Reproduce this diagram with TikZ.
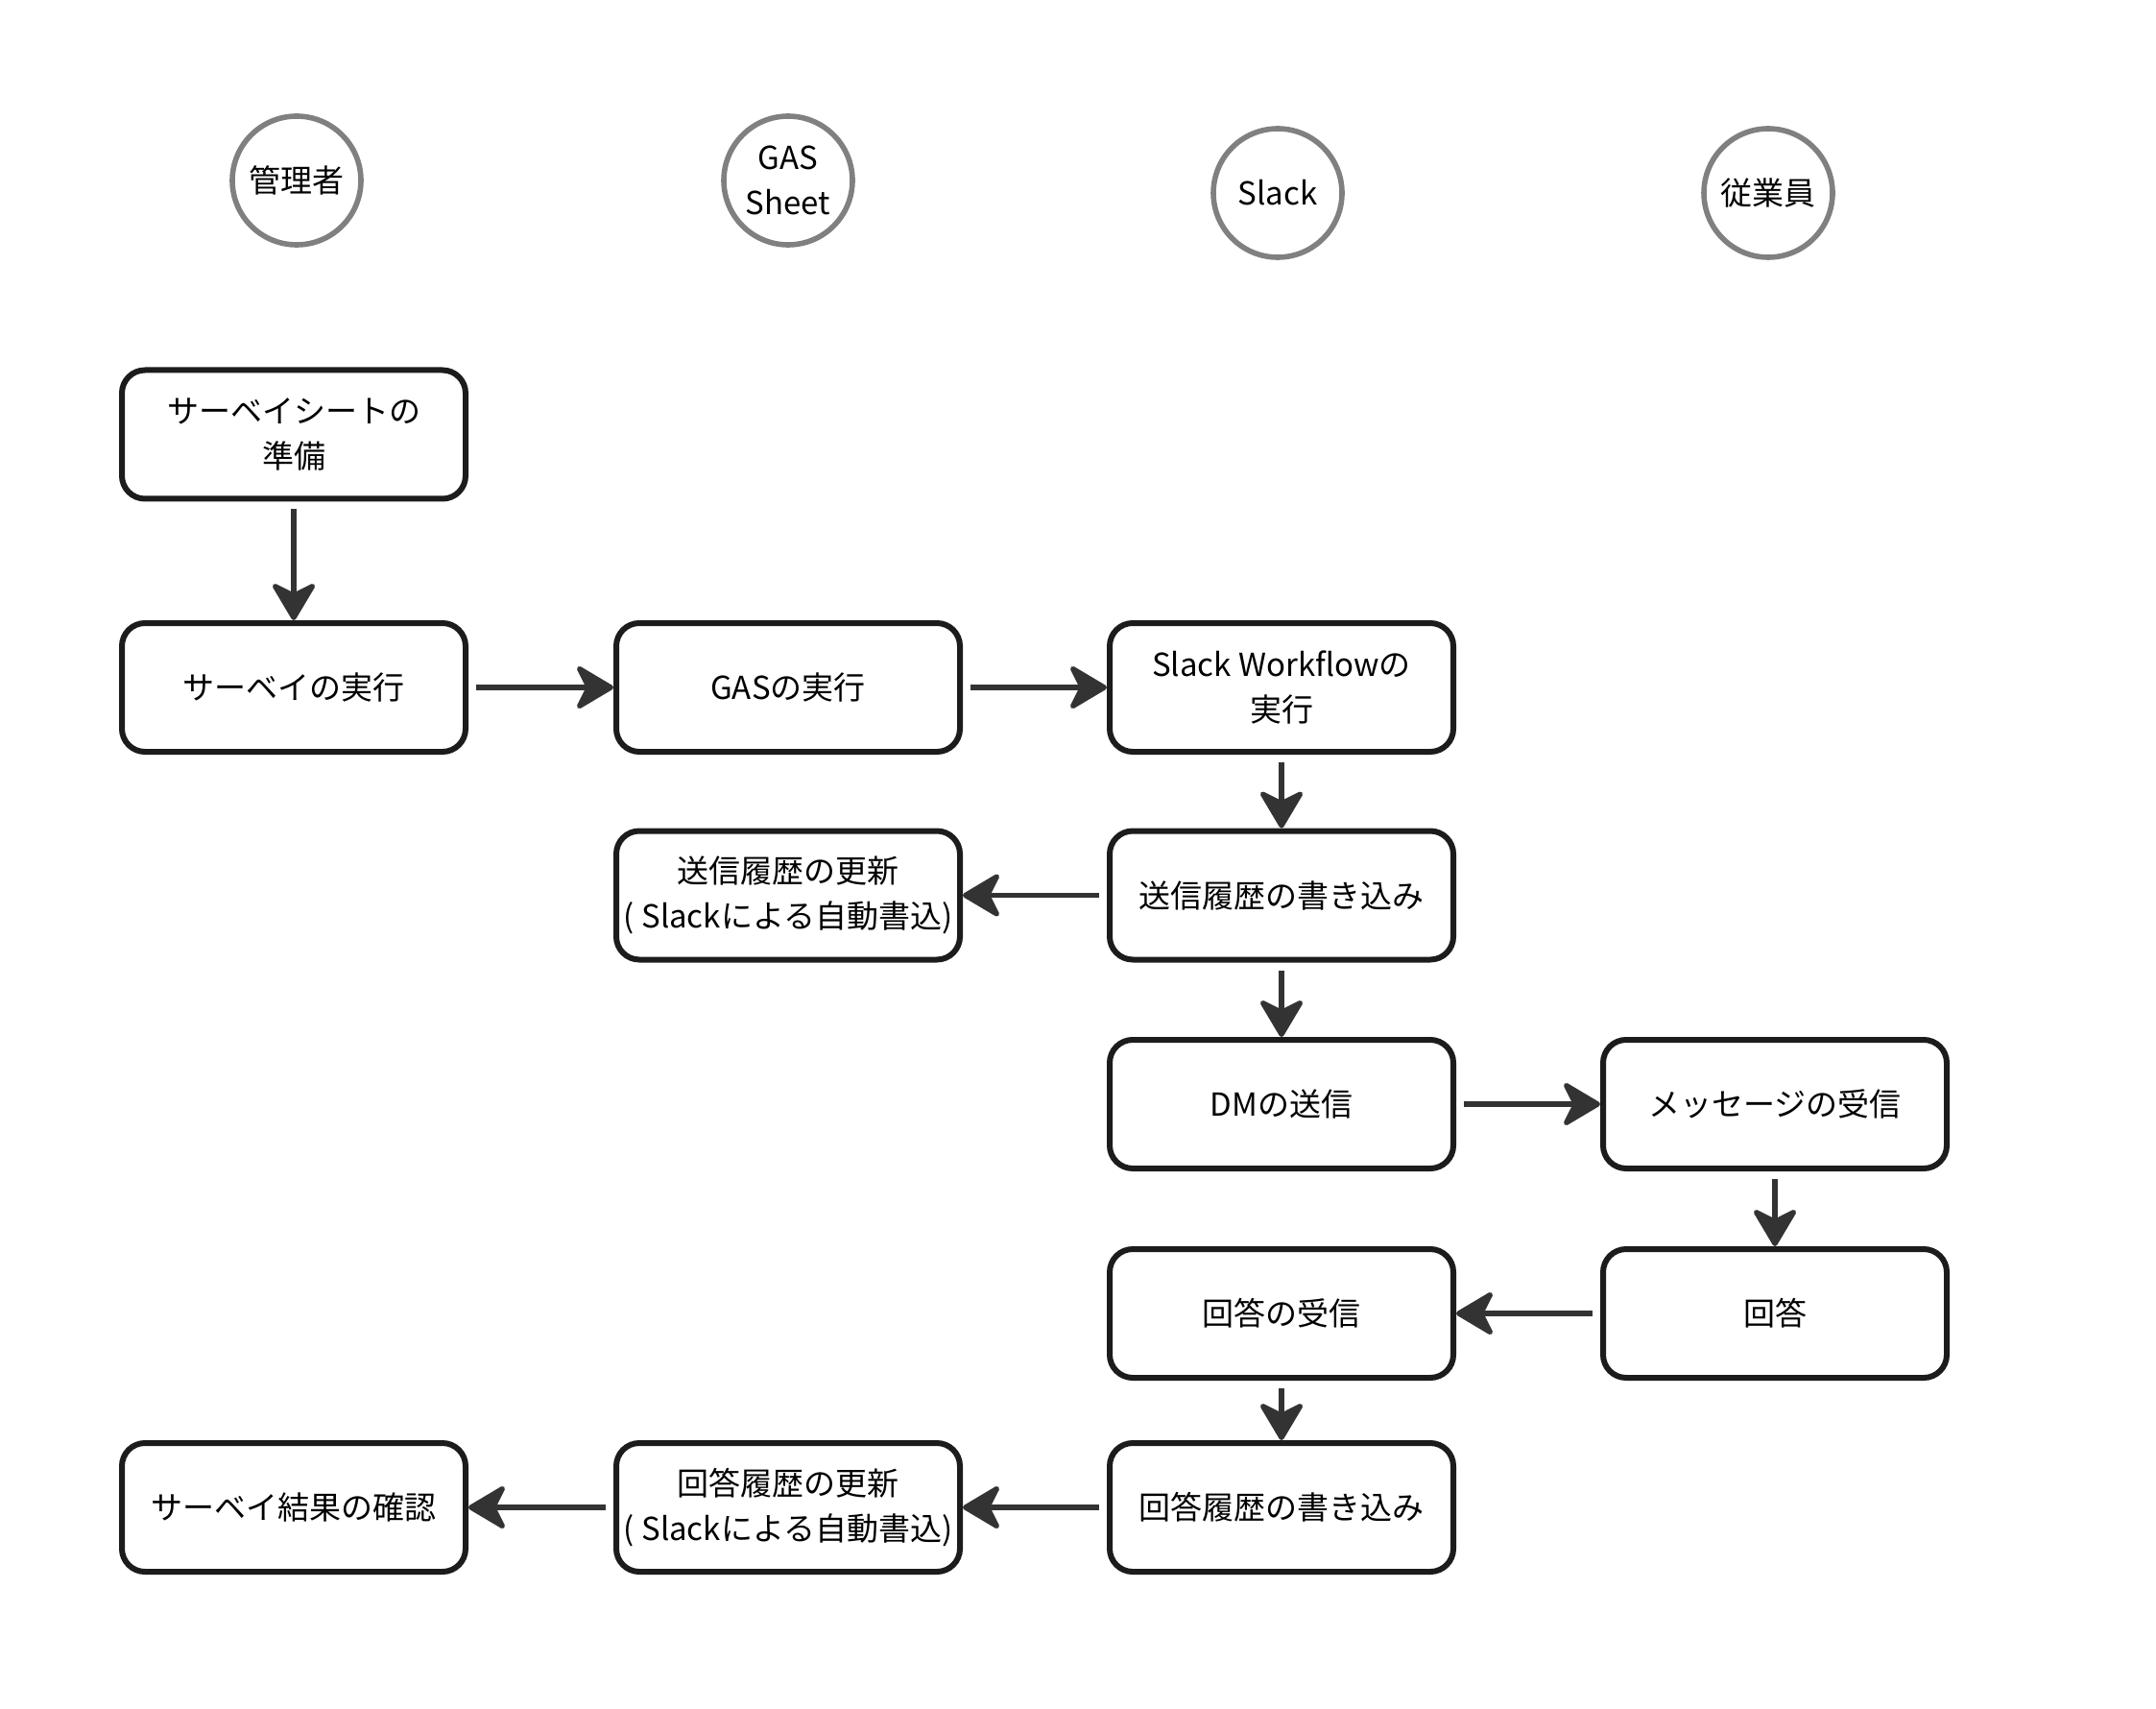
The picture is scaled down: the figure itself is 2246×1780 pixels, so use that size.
\documentclass[tikz,border=0pt]{standalone}
\usepackage{fontspec}
\setmainfont{Noto Sans CJK JP}
\usetikzlibrary{arrows.meta}
\definecolor{boxline}{HTML}{1C1C1C}
\definecolor{arrline}{HTML}{333333}
\definecolor{circline}{HTML}{808080}
\begin{document}
\begin{tikzpicture}[x=0.5pt,y=-0.5pt,
  stepbox/.style={rectangle, rounded corners=12pt, draw=boxline, fill=white,
    line width=3pt, minimum width=179pt, minimum height=67pt, inner sep=0pt,
    align=center, font=\fontsize{16.5pt}{23.5pt}\selectfont},
  actor/.style={circle, draw=circline, fill=white, line width=2.8pt,
    minimum size=67pt, inner sep=0pt, align=center,
    font=\fontsize{16.5pt}{23.5pt}\selectfont},
  arr/.style={draw=arrline, line width=2.6pt, shorten <=4pt,
    -{Stealth[length=22pt,width=26pt,inset=6.5pt,round]}}
]
\useasboundingbox (0,0) rectangle (2246,1780);
\fill[white] (0,0) rectangle (2246,1780);

% actors
\node[actor] (admin) at (309,188) {管理者};
\node[actor] (gas) at (821,188) {GAS\\Sheet};
\node[actor] (slack) at (1331,201) {Slack};
\node[actor] (emp) at (1842,201) {従業員};

% boxes
\node[stepbox] (prep) at (306,452.5) {サーベイシートの\\準備};
\node[stepbox] (run) at (306,716) {サーベイの実行};
\node[stepbox] (gasrun) at (821,716) {GASの実行};
\node[stepbox] (wf) at (1335,716) {Slack Workflowの\\実行};
\node[stepbox] (sendw) at (1335,932.5) {送信履歴の書き込み};
\node[stepbox] (sendu) at (821,932.5) {送信履歴の更新\\( Slackによる自動書込)};
\node[stepbox] (dm) at (1335,1150) {DMの送信};
\node[stepbox] (recv) at (1849,1150) {メッセージの受信};
\node[stepbox] (ans) at (1849,1368) {回答};
\node[stepbox] (ansr) at (1335,1368) {回答の受信};
\node[stepbox] (answ) at (1335,1570) {回答履歴の書き込み};
\node[stepbox] (ansu) at (821,1570) {回答履歴の更新\\( Slackによる自動書込)};
\node[stepbox] (check) at (306,1570) {サーベイ結果の確認};

% connectors
\draw[arr] (prep.south) -- (run.north);
\draw[arr] (run.east) -- (gasrun.west);
\draw[arr] (gasrun.east) -- (wf.west);
\draw[arr] (wf.south) -- (sendw.north);
\draw[arr] (sendw.west) -- (sendu.east);
\draw[arr] (sendw.south) -- (dm.north);
\draw[arr] (dm.east) -- (recv.west);
\draw[arr] (recv.south) -- (ans.north);
\draw[arr] (ans.west) -- (ansr.east);
\draw[arr] (ansr.south) -- (answ.north);
\draw[arr] (answ.west) -- (ansu.east);
\draw[arr] (ansu.west) -- (check.east);
\end{tikzpicture}
\end{document}
